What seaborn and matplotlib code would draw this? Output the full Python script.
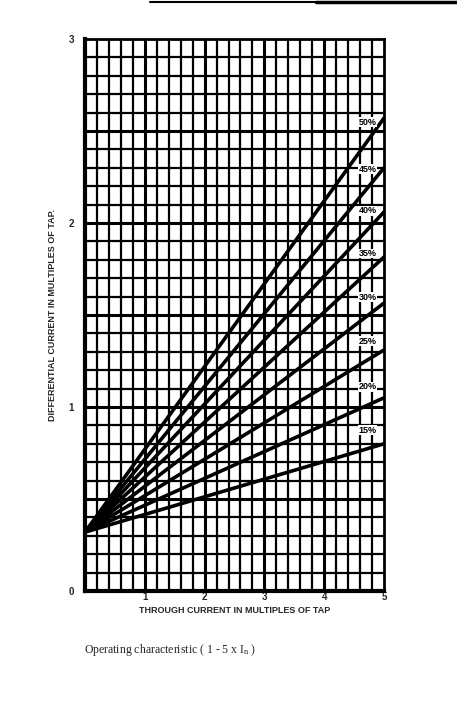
import numpy as np
import pandas as pd
import matplotlib
matplotlib.use("Agg")
import matplotlib.pyplot as plt
import seaborn as sns

# ---- data ----
percent_labels = ["15%", "20%", "25%", "30%", "35%", "40%", "45%", "50%"]
x_start = 0.0
x_end = 5.0
y_start = 0.32
y_end = [0.80, 1.05, 1.31, 1.565, 1.815, 2.06, 2.30, 2.57]
label_x = 4.73
y_ticks = [0, 1, 2, 3]
x_ticks = [1, 2, 3, 4, 5]

rows = []
for lab, ye in zip(percent_labels, y_end):
    rows.append({"through": x_start, "diff": y_start, "slope": lab})
    rows.append({"through": x_end, "diff": ye, "slope": lab})
df = pd.DataFrame(rows)

sns.set_theme(style="white")
plt.rcParams["font.family"] = ["Liberation Sans Narrow", "Liberation Sans", "DejaVu Sans"]

fig = plt.figure(figsize=(4.57, 7.07), dpi=100)
ax = fig.add_axes([85 / 457, 1 - 591 / 707, (384 - 85) / 457, (591 - 39) / 707])

# grid
ax.set_xlim(0, 5)
ax.set_ylim(0, 3)
for gx in np.arange(0.2, 5.0, 0.2):
    lw = 2.2 if abs(gx - round(gx)) < 1e-6 else 1.6
    ax.axvline(gx, color="black", lw=lw, zorder=1)
for gy in np.arange(0.1, 3.0, 0.1):
    lw = 2.2 if abs(gy * 2 - round(gy * 2)) < 1e-6 else 1.6
    ax.axhline(gy, color="black", lw=lw, zorder=1)

sns.lineplot(data=df, x="through", y="diff", hue="slope",
             palette=["black"] * len(percent_labels), lw=2.6,
             legend=False, ax=ax, zorder=3)

for lab, ye in zip(percent_labels, y_end):
    yl = y_start + (ye - y_start) * label_x / x_end + 0.1
    ax.text(label_x, yl, lab, ha="center", va="center", fontsize=6.5,
            fontweight="bold", color="black", zorder=4,
            bbox=dict(facecolor="white", edgecolor="none", pad=0.3))

for sp in ax.spines.values():
    sp.set_visible(True)
    sp.set_color("black")
    sp.set_linewidth(2.0)
ax.spines["left"].set_linewidth(3.0)
ax.spines["bottom"].set_linewidth(3.0)

ax.set_xticks([0] + x_ticks)
ax.set_xticklabels([""] + [str(t) for t in x_ticks], fontsize=7, fontweight="bold")
ax.set_yticks(y_ticks)
ax.set_yticklabels([str(t) for t in y_ticks], fontsize=7, fontweight="bold")
ax.tick_params(axis="both", length=0)
ax.tick_params(axis="x", pad=1)
ax.tick_params(axis="y", pad=8)
ax.set_xlabel("THROUGH CURRENT IN MULTIPLES OF TAP", fontsize=6.5,
              fontweight="bold", labelpad=-2)
ax.set_ylabel("DIFFERENTIAL CURRENT IN MULTIPLES OF TAP.", fontsize=6.5,
              fontweight="bold", labelpad=8)
ax.set_xlabel(ax.get_xlabel())
ax.xaxis.set_label_coords(0.5, -0.028)

fig.text(84 / 457, 1 - 650 / 707,
         "Operating characteristic ( 1 - 5 x $\\mathregular{I_n}$ )",
         family=["Liberation Serif", "DejaVu Serif"], fontsize=8.5,
         ha="left", va="center")

# top rule
fig.add_artist(plt.Line2D([150 / 457, 316 / 457], [1 - 1.5 / 707] * 2,
                          color="black", lw=1.5, transform=fig.transFigure))
fig.add_artist(plt.Line2D([316 / 457, 1.0], [1 - 1.5 / 707] * 2,
                          color="black", lw=2.5, transform=fig.transFigure))

fig.savefig("out.png", dpi=100, facecolor="white")
